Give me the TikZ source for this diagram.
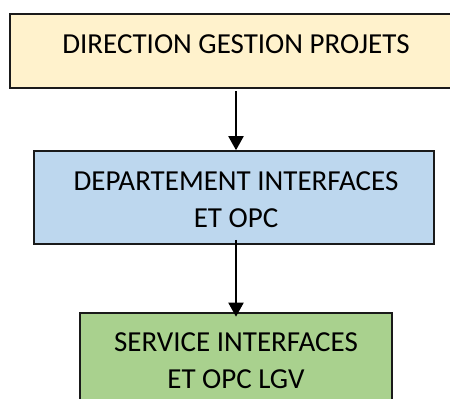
\documentclass[tikz,border=0pt]{standalone}
\usepackage{fontspec}
\setmainfont{Carlito}
\usetikzlibrary{arrows.meta}
\definecolor{topfill}{HTML}{FFF2CC}
\definecolor{midfill}{HTML}{BDD7EE}
\definecolor{botfill}{HTML}{A9D18E}
\definecolor{edge}{HTML}{1A1A1A}
\tikzset{
  box/.style={draw=edge, line width=1.6pt, rectangle, inner sep=0pt},
  lbl/.style={font=\fontsize{29}{37}\selectfont, align=center, anchor=base, inner sep=0pt},
  conn/.style={line width=2pt, -{Triangle[length=14pt,width=15pt]}}
}
\begin{document}
\begin{tikzpicture}[x=1pt,y=-1pt]
\useasboundingbox (0,0) rectangle (450,399);
\begin{scope}
\clip (0,0) rectangle (450,399);
\node[box, fill=topfill, minimum width=452pt, minimum height=74pt] (top) at (236,51) {};
\node[box, fill=midfill, minimum width=400pt, minimum height=93pt] (mid) at (234,197.5) {};
\node[box, fill=botfill, minimum width=312pt, minimum height=92pt] (bot) at (236,359) {};
\end{scope}
\node[lbl] (toptext) at (236,53) {DIRECTION GESTION PROJETS};
\node[lbl] (midtext) at (236,227) {DEPARTEMENT INTERFACES\\ET OPC};
\node[lbl] (bottext) at (236,388) {SERVICE INTERFACES\\ET OPC LGV};
\draw[conn, shorten <=2.5pt] (top.south) -- (top.south |- mid.north);
\draw[conn] ([yshift=5pt]mid.south -| bot.north) -- ([yshift=-4.5pt]bot.north);
\end{tikzpicture}
\end{document}
